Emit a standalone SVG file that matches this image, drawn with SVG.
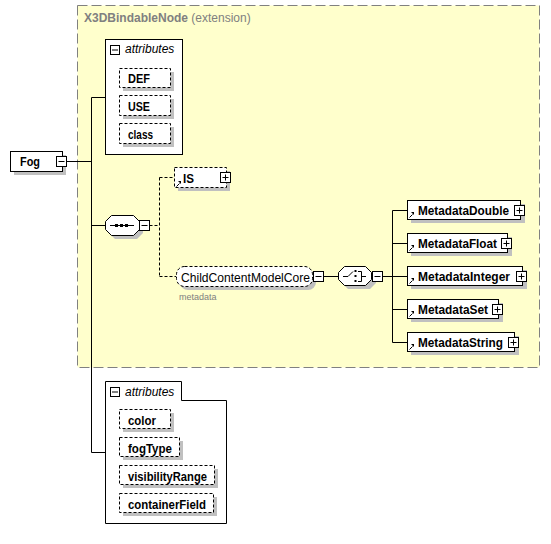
<svg xmlns="http://www.w3.org/2000/svg" width="551" height="544" viewBox="0 0 551 544">
<defs>
<style>
.bg{fill:#fff}
.box{fill:#fff;stroke:#000;stroke-width:1}
.opt{fill:#fff;stroke:#000;stroke-width:1;stroke-dasharray:3,2}
.sh{fill:#c0c0c0}
.ln{fill:none;stroke:#000;stroke-width:1}
.dl{fill:none;stroke:#000;stroke-width:1;stroke-dasharray:3,2}
.b{font-family:"Liberation Sans",Arial,sans-serif;font-size:13px;font-weight:bold;fill:#000}
.n{font-family:"Liberation Sans",Arial,sans-serif;font-size:13px;fill:#000}
.i{font-family:"Liberation Sans",Arial,sans-serif;font-size:12px;font-style:italic;fill:#000}
.s{font-family:"Liberation Sans",Arial,sans-serif;font-size:9px;fill:#808080}
.t{font-family:"Liberation Sans",Arial,sans-serif;font-size:12px;fill:#808080}
</style>
<g id="minus"><rect class="box" x="0.5" y="0.5" width="10" height="10"/><path class="ln" d="M2.5,5.5H8.5"/></g>
<g id="plus"><rect class="box" x="0.5" y="0.5" width="10" height="10"/><path class="ln" d="M2.5,5.5H8.5M5.5,2.5V8.5"/></g>
<g id="minus9"><rect class="box" x="0.5" y="0.5" width="9" height="9"/><path class="ln" d="M2,5H8"/></g>
<g id="ref"><path class="ln" d="M0.5,5.5L3.5,2.5"/><path d="M2,0H5V3Z" fill="#000"/></g>
</defs>
<rect width="551" height="544" fill="#fff"/>

<g id="extension">
<rect x="77.5" y="5.5" width="462" height="362" fill="#ffffcc" stroke="#808080" stroke-dasharray="10,4"/>
<text x="84" y="22" class="t"><tspan font-weight="bold">X3DBindableNode</tspan> (extension)</text>
</g>

<g id="connectors">
<path class="ln" d="M66.5,161.5H91.5M91.5,97.5V452.5M91.5,97.5H105.5M91.5,225.5H105.5M91.5,452.5H105.5"/>
<path class="dl" d="M149.5,225.5H159.5M159.5,177.5V276.5M159.5,177.5H174.5M159.5,276.5H176.5"/>
<path class="ln" d="M323.5,276.5H338.5M382.5,276.5H392.5M392.5,210.5V342.5M392.5,210.5H407.5M392.5,243.5H407.5M392.5,276.5H407.5M392.5,309.5H407.5M392.5,342.5H407.5"/>
</g>

<g id="Fog">
<rect class="sh" x="14" y="155" width="52" height="20"/>
<rect class="box" x="10.5" y="151.5" width="52" height="20"/>
<text x="20" y="166" class="b" textLength="20" lengthAdjust="spacingAndGlyphs">Fog</text>
<use href="#minus" x="56" y="156"/>
</g>

<g id="attributes1">
<rect class="box" x="105.5" y="39.5" width="77" height="115"/>
<use href="#minus9" x="110" y="45"/>
<text x="125" y="53" class="i">attributes</text>
</g>
<g id="DEF">
<rect class="sh" x="123" y="72" width="51" height="19"/>
<rect class="opt" x="119.5" y="68.5" width="51" height="19"/>
<text x="128" y="82.5" class="b" textLength="22" lengthAdjust="spacingAndGlyphs">DEF</text>
</g>
<g id="USE">
<rect class="sh" x="123" y="99" width="51" height="20"/>
<rect class="opt" x="119.5" y="95.5" width="51" height="20"/>
<text x="128" y="110.5" class="b" textLength="22" lengthAdjust="spacingAndGlyphs">USE</text>
</g>
<g id="class">
<rect class="sh" x="123" y="127" width="51" height="20"/>
<rect class="opt" x="119.5" y="123.5" width="51" height="20"/>
<text x="128" y="138.5" class="b" textLength="25" lengthAdjust="spacingAndGlyphs">class</text>
</g>

<g id="sequence">
<path class="sh" d="M115,220H137L143,226V233L137,239H115L109,233V226Z"/>
<path class="box" d="M111.5,215.5H133.5L139.5,221.5V229.5L133.5,235.5H111.5L105.5,229.5V221.5Z"/>
<path class="ln" d="M110,225.5H134"/>
<rect x="115" y="224" width="3" height="3" fill="#000"/>
<rect x="120" y="224" width="3" height="3" fill="#000"/>
<rect x="125" y="224" width="3" height="3" fill="#000"/>
<use href="#minus" x="139" y="220"/>
</g>

<g id="IS">
<rect class="sh" x="178" y="171" width="52" height="20"/>
<rect class="opt" x="174.5" y="167.5" width="52" height="20"/>
<use href="#ref" x="176" y="181"/>
<text x="183" y="182.5" class="b" textLength="11" lengthAdjust="spacingAndGlyphs">IS</text>
<use href="#plus" x="220" y="172"/>
</g>

<g id="ChildContentModelCore">
<rect class="sh" x="180" y="270" width="136" height="20" rx="8"/>
<rect class="opt" x="176.5" y="266.5" width="136" height="20" rx="8"/>
<text x="181" y="281.5" class="n" textLength="129" lengthAdjust="spacingAndGlyphs">ChildContentModelCore</text>
<use href="#minus" x="313" y="271"/>
<text x="179" y="300" class="s">metadata</text>
</g>

<g id="choice">
<path class="sh" d="M348,271H370L376,277V283L370,289H348L342,283V277Z"/>
<path class="box" d="M344.5,266.5H365.5L371.5,272.5V279.5L365.5,285.5H344.5L338.5,279.5V272.5Z"/>
<path class="ln" d="M343,276.5H348L353,271.5M358,271.5H361.5V281.5H358M361.5,276.5H366"/>
<rect x="354.5" y="270" width="2" height="2" fill="#000"/>
<rect x="354.5" y="275" width="2" height="2" fill="#000"/>
<rect x="354.5" y="280" width="2" height="2" fill="#000"/>
<use href="#minus" x="372" y="271"/>
</g>

<g id="MetadataDouble">
<rect class="sh" x="411" y="204" width="114" height="19"/>
<rect class="box" x="407.5" y="200.5" width="113" height="19"/>
<use href="#ref" x="409" y="212"/>
<text x="418" y="214.5" class="b" textLength="91" lengthAdjust="spacingAndGlyphs">MetadataDouble</text>
<use href="#plus" x="514" y="205"/>
</g>
<g id="MetadataFloat">
<rect class="sh" x="411" y="237" width="101" height="19"/>
<rect class="box" x="407.5" y="233.5" width="100" height="19"/>
<use href="#ref" x="409" y="245"/>
<text x="418" y="247.5" class="b" textLength="79" lengthAdjust="spacingAndGlyphs">MetadataFloat</text>
<use href="#plus" x="501" y="238"/>
</g>
<g id="MetadataInteger">
<rect class="sh" x="411" y="270" width="116" height="19"/>
<rect class="box" x="407.5" y="266.5" width="115" height="19"/>
<use href="#ref" x="409" y="278"/>
<text x="418" y="280.5" class="b" textLength="92" lengthAdjust="spacingAndGlyphs">MetadataInteger</text>
<use href="#plus" x="516" y="271"/>
</g>
<g id="MetadataSet">
<rect class="sh" x="411" y="303" width="92" height="19"/>
<rect class="box" x="407.5" y="299.5" width="91" height="19"/>
<use href="#ref" x="409" y="311"/>
<text x="418" y="313.5" class="b" textLength="70" lengthAdjust="spacingAndGlyphs">MetadataSet</text>
<use href="#plus" x="492" y="304"/>
</g>
<g id="MetadataString">
<rect class="sh" x="411" y="336" width="108" height="19"/>
<rect class="box" x="407.5" y="332.5" width="107" height="19"/>
<use href="#ref" x="409" y="344"/>
<text x="418" y="346.5" class="b" textLength="85" lengthAdjust="spacingAndGlyphs">MetadataString</text>
<use href="#plus" x="508" y="337"/>
</g>

<g id="attributes2">
<path class="box" d="M105.5,381.5H181.5V400.5H226.5V523.5H105.5Z"/>
<use href="#minus9" x="110" y="387"/>
<text x="125" y="396" class="i">attributes</text>
</g>
<g id="color">
<rect class="sh" x="123" y="413" width="51" height="19"/>
<rect class="opt" x="119.5" y="409.5" width="51" height="19"/>
<text x="128" y="424.5" class="b" textLength="28" lengthAdjust="spacingAndGlyphs">color</text>
</g>
<g id="fogType">
<rect class="sh" x="123" y="441" width="60" height="19"/>
<rect class="opt" x="119.5" y="437.5" width="60" height="19"/>
<text x="128" y="452.5" class="b" textLength="44" lengthAdjust="spacingAndGlyphs">fogType</text>
</g>
<g id="visibilityRange">
<rect class="sh" x="123" y="469" width="95" height="19"/>
<rect class="opt" x="119.5" y="465.5" width="95" height="19"/>
<text x="128" y="480.5" class="b" textLength="79" lengthAdjust="spacingAndGlyphs">visibilityRange</text>
</g>
<g id="containerField">
<rect class="sh" x="123" y="497" width="94" height="19"/>
<rect class="opt" x="119.5" y="493.5" width="94" height="19"/>
<text x="128" y="508.5" class="b" textLength="78" lengthAdjust="spacingAndGlyphs">containerField</text>
</g>
</svg>
